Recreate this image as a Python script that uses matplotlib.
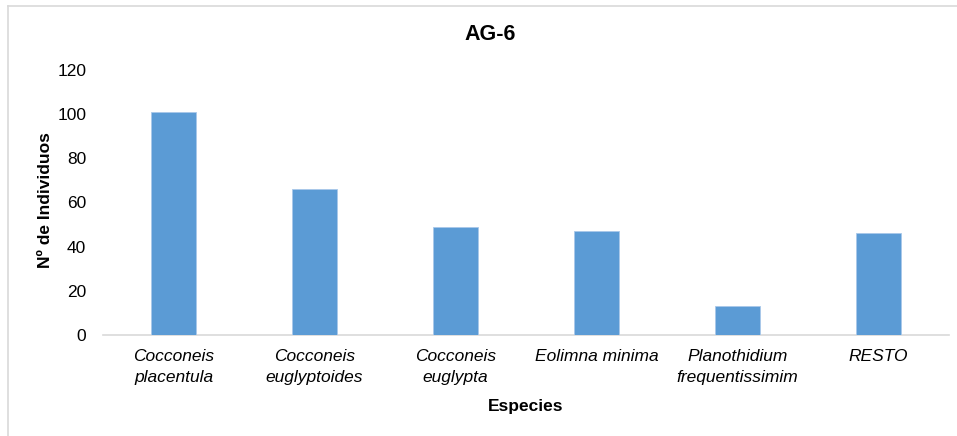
import matplotlib
matplotlib.use("Agg")
import matplotlib.pyplot as plt
from matplotlib.lines import Line2D

categories = ["Cocconeis\nplacentula", "Cocconeis\neuglyptoides", "Cocconeis\neuglypta",
              "Eolimna minima", "Planothidium\nfrequentissimim", "RESTO"]
values = [101, 66, 49, 47, 13, 46]
yticks = [0, 20, 40, 60, 80, 100, 120]

plt.rcParams['font.family'] = ['Liberation Sans', 'DejaVu Sans']

fig = plt.figure(figsize=(9.57, 4.36), dpi=100)
ax = fig.add_axes([103/957, 1-335/436, (949-103)/957, (335-70)/436])

x = list(range(len(categories)))
ax.bar(x, values, width=0.32, color='#5b9bd5', edgecolor='#a9c8ea', linewidth=0.6, zorder=3)
ax.set_xlim(-0.5, len(categories)-0.5)
ax.set_ylim(0, 120)
ax.set_yticks(yticks)
ax.set_yticklabels([str(t) for t in yticks], fontsize=12.5, color='#000000')
ax.set_xticks(x)
ax.set_xticklabels(categories, fontsize=12.5, style='italic', linespacing=1.5)
ax.tick_params(axis='both', length=0)
ax.tick_params(axis='y', pad=12)
ax.tick_params(axis='x', pad=10)
for s in ['left', 'right', 'top']:
    ax.spines[s].set_visible(False)
ax.spines['bottom'].set_color('#d9d9d9')
ax.spines['bottom'].set_linewidth(1.2)

ax.set_xlabel('Especies', fontsize=12.5, fontweight='bold', labelpad=10)
fig.text(46/957, 1-200/436, 'Nº de Individuos', rotation=90, ha='center', va='center',
         fontsize=12.5, fontweight='bold')
fig.text(0.512, 1-34/436, 'AG-6', ha='center', va='center', fontsize=15.5, fontweight='bold')

# chart border (left and top visible)
fig.add_artist(Line2D([8/957, 8/957], [0, 1-6/436], transform=fig.transFigure, color='#d9d9d9', lw=1.2))
fig.add_artist(Line2D([8/957, 1], [1-6/436, 1-6/436], transform=fig.transFigure, color='#d9d9d9', lw=1.2))

fig.savefig('out.png', dpi=100)
